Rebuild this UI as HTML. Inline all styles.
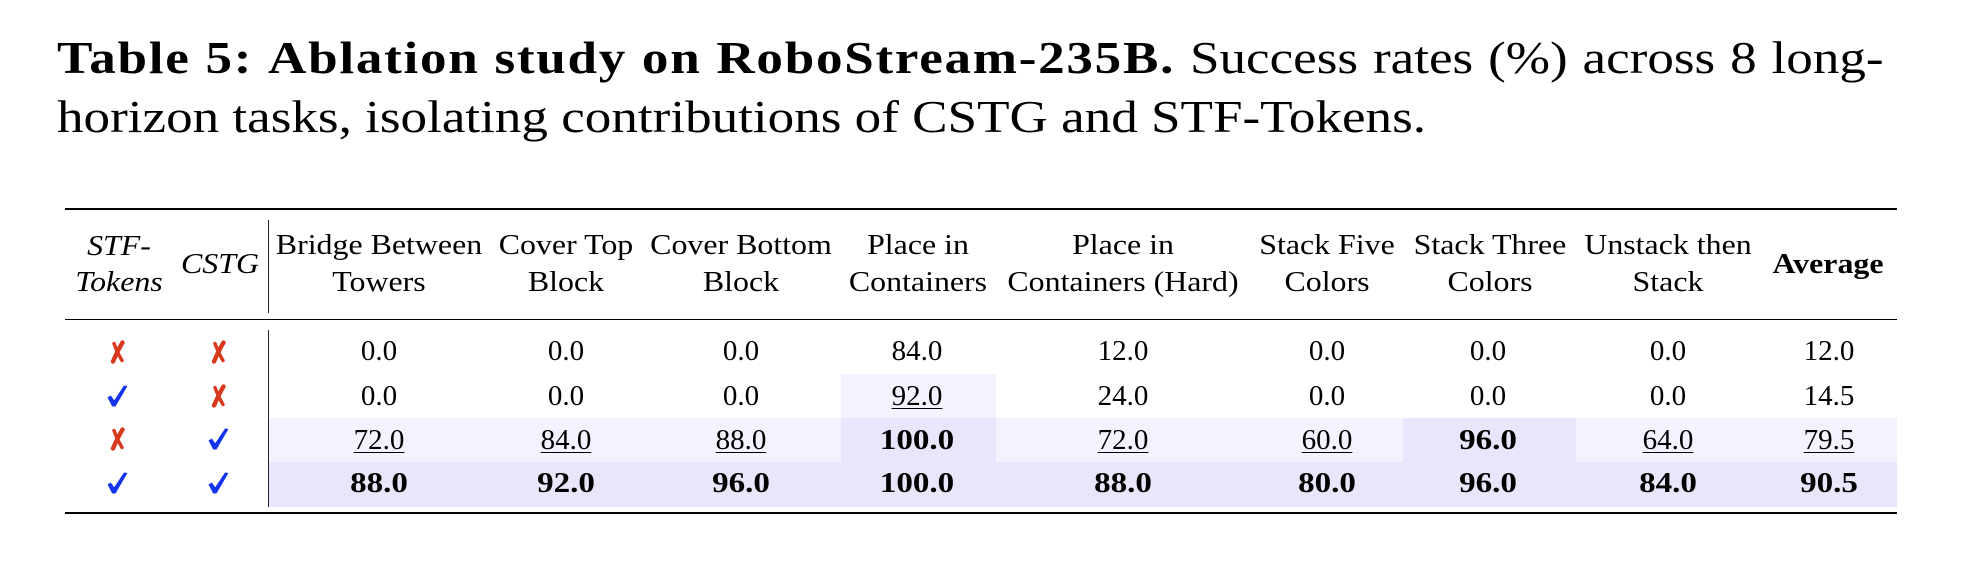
<!DOCTYPE html>
<html>
<head>
<meta charset="utf-8">
<style>
  html, body { margin:0; padding:0; background:#fff; }
  body { width:1962px; height:576px; position:relative; overflow:hidden;
         font-family:"Liberation Serif", serif; color:#000; }
  .cap { position:absolute; font-size:46px; line-height:46px; white-space:nowrap; transform-origin:0 0; }
  .l1 { left:57px; top:34.5px; width:1583px; display:flex; justify-content:space-between; transform:scaleX(1.154); }
  .l1 .b { letter-spacing:1.5px; }
  .l2 { left:57px; top:93.5px; transform:scaleX(1.154); }
  .b { font-weight:bold; }
  .rule { position:absolute; left:65px; width:1832px; background:#000; }
  .vl { position:absolute; left:268px; width:1.3px; background:#222; }
  .bg { position:absolute; }
  .lt { background:#f4f2fe; }
  .dk { background:#e9e6fb; }
  .t { position:absolute; font-size:29px; line-height:29px; white-space:nowrap; transform:translateX(-50%); }
  .h { transform:translateX(-50%) scaleX(1.1); }
  .i { font-style:italic; }
  .bn { font-weight:bold; transform:translateX(-50%) scaleX(1.14); }
  .u { text-decoration:underline; text-decoration-thickness:1.3px; text-underline-offset:3px; }
  .mk { position:absolute; width:24px; height:24px; }
</style>
</head>
<body>

<div class="cap l1"><span class="b">Table</span><span class="b">5:</span><span class="b">Ablation</span><span class="b">study</span><span class="b">on</span><span class="b">RoboStream-235B.</span><span>Success</span><span>rates</span><span>(%)</span><span>across</span><span>8</span><span>long-</span></div>
<div class="cap l2">horizon tasks, isolating contributions of CSTG and STF-Tokens.</div>

<!-- backgrounds -->
<div class="bg lt" style="left:841px;top:374px;width:155px;height:44px;"></div>
<div class="bg lt" style="left:269px;top:418px;width:1628px;height:44px;"></div>
<div class="bg dk" style="left:841px;top:418px;width:155px;height:44px;"></div>
<div class="bg dk" style="left:1403px;top:418px;width:173px;height:44px;"></div>
<div class="bg dk" style="left:269px;top:462px;width:1628px;height:45px;"></div>

<!-- rules -->
<div class="rule" style="top:207.8px;height:2.4px;"></div>
<div class="rule" style="top:318.8px;height:1.4px;"></div>
<div class="rule" style="top:511.8px;height:2.4px;"></div>
<div class="vl" style="top:220px;height:93px;"></div>
<div class="vl" style="top:330px;height:177px;"></div>

<!-- header -->
<div class="t h i" style="left:119px;top:232.4px;">STF-</div>
<div class="t h i" style="left:119px;top:268.4px;">Tokens</div>
<div class="t h i" style="left:220px;top:249.7px;">CSTG</div>

<div class="t h" style="left:379px;top:231.2px;">Bridge Between</div>
<div class="t h" style="left:379px;top:268.4px;">Towers</div>
<div class="t h" style="left:566px;top:231.2px;">Cover Top</div>
<div class="t h" style="left:566px;top:268.4px;">Block</div>
<div class="t h" style="left:741px;top:231.2px;">Cover Bottom</div>
<div class="t h" style="left:741px;top:268.4px;">Block</div>
<div class="t h" style="left:918px;top:231.2px;">Place in</div>
<div class="t h" style="left:918px;top:268.4px;">Containers</div>
<div class="t h" style="left:1123px;top:231.2px;">Place in</div>
<div class="t h" style="left:1123px;top:268.4px;">Containers (Hard)</div>
<div class="t h" style="left:1327px;top:231.2px;">Stack Five</div>
<div class="t h" style="left:1327px;top:268.4px;">Colors</div>
<div class="t h" style="left:1490px;top:231.2px;">Stack Three</div>
<div class="t h" style="left:1490px;top:268.4px;">Colors</div>
<div class="t h" style="left:1668px;top:231.2px;">Unstack then</div>
<div class="t h" style="left:1668px;top:268.4px;">Stack</div>
<div class="t h b" style="left:1828px;top:249.7px;">Average</div>

<!-- row 1 -->
<div class="t" style="left:379px;top:337.4px;">0.0</div>
<div class="t" style="left:566px;top:337.4px;">0.0</div>
<div class="t" style="left:741px;top:337.4px;">0.0</div>
<div class="t" style="left:917px;top:337.4px;">84.0</div>
<div class="t" style="left:1123px;top:337.4px;">12.0</div>
<div class="t" style="left:1327px;top:337.4px;">0.0</div>
<div class="t" style="left:1488px;top:337.4px;">0.0</div>
<div class="t" style="left:1668px;top:337.4px;">0.0</div>
<div class="t" style="left:1829px;top:337.4px;">12.0</div>

<!-- row 2 -->
<div class="t" style="left:379px;top:381.7px;">0.0</div>
<div class="t" style="left:566px;top:381.7px;">0.0</div>
<div class="t" style="left:741px;top:381.7px;">0.0</div>
<div class="t u" style="left:917px;top:381.7px;">92.0</div>
<div class="t" style="left:1123px;top:381.7px;">24.0</div>
<div class="t" style="left:1327px;top:381.7px;">0.0</div>
<div class="t" style="left:1488px;top:381.7px;">0.0</div>
<div class="t" style="left:1668px;top:381.7px;">0.0</div>
<div class="t" style="left:1829px;top:381.7px;">14.5</div>

<!-- row 3 -->
<div class="t u" style="left:379px;top:426px;">72.0</div>
<div class="t u" style="left:566px;top:426px;">84.0</div>
<div class="t u" style="left:741px;top:426px;">88.0</div>
<div class="t bn" style="left:917px;top:426px;">100.0</div>
<div class="t u" style="left:1123px;top:426px;">72.0</div>
<div class="t u" style="left:1327px;top:426px;">60.0</div>
<div class="t bn" style="left:1488px;top:426px;">96.0</div>
<div class="t u" style="left:1668px;top:426px;">64.0</div>
<div class="t u" style="left:1829px;top:426px;">79.5</div>

<!-- row 4 -->
<div class="t bn" style="left:379px;top:469.2px;">88.0</div>
<div class="t bn" style="left:566px;top:469.2px;">92.0</div>
<div class="t bn" style="left:741px;top:469.2px;">96.0</div>
<div class="t bn" style="left:917px;top:469.2px;">100.0</div>
<div class="t bn" style="left:1123px;top:469.2px;">88.0</div>
<div class="t bn" style="left:1327px;top:469.2px;">80.0</div>
<div class="t bn" style="left:1488px;top:469.2px;">96.0</div>
<div class="t bn" style="left:1668px;top:469.2px;">84.0</div>
<div class="t bn" style="left:1829px;top:469.2px;">90.5</div>

<!-- marks -->
<svg class="mk" style="left:106px;top:340px;" viewBox="0 0 24 24"><path d="M16.5,2.5 Q12,10 7,21.5" stroke="#d8381e" stroke-width="4.4" fill="none" stroke-linecap="round"/><path d="M8,3.5 Q11,12 16,20.5" stroke="#d8381e" stroke-width="3.4" fill="none" stroke-linecap="round"/></svg>
<svg class="mk" style="left:207px;top:340px;" viewBox="0 0 24 24"><path d="M16.5,2.5 Q12,10 7,21.5" stroke="#d8381e" stroke-width="4.4" fill="none" stroke-linecap="round"/><path d="M8,3.5 Q11,12 16,20.5" stroke="#d8381e" stroke-width="3.4" fill="none" stroke-linecap="round"/></svg>

<svg class="mk" style="left:105px;top:384px;" viewBox="0 0 24 24"><path d="M2.5,13.5 L5.8,11.5 L9.2,16.2 L19,1.5 L22.5,2 L10.5,22.5 L7.2,22.5 Z" fill="#1534ef"/></svg>
<svg class="mk" style="left:207px;top:384px;" viewBox="0 0 24 24"><path d="M16.5,2.5 Q12,10 7,21.5" stroke="#d8381e" stroke-width="4.4" fill="none" stroke-linecap="round"/><path d="M8,3.5 Q11,12 16,20.5" stroke="#d8381e" stroke-width="3.4" fill="none" stroke-linecap="round"/></svg>

<svg class="mk" style="left:106px;top:427px;" viewBox="0 0 24 24"><path d="M16.5,2.5 Q12,10 7,21.5" stroke="#d8381e" stroke-width="4.4" fill="none" stroke-linecap="round"/><path d="M8,3.5 Q11,12 16,20.5" stroke="#d8381e" stroke-width="3.4" fill="none" stroke-linecap="round"/></svg>
<svg class="mk" style="left:206px;top:427px;" viewBox="0 0 24 24"><path d="M2.5,13.5 L5.8,11.5 L9.2,16.2 L19,1.5 L22.5,2 L10.5,22.5 L7.2,22.5 Z" fill="#1534ef"/></svg>

<svg class="mk" style="left:105px;top:471px;" viewBox="0 0 24 24"><path d="M2.5,13.5 L5.8,11.5 L9.2,16.2 L19,1.5 L22.5,2 L10.5,22.5 L7.2,22.5 Z" fill="#1534ef"/></svg>
<svg class="mk" style="left:206px;top:471px;" viewBox="0 0 24 24"><path d="M2.5,13.5 L5.8,11.5 L9.2,16.2 L19,1.5 L22.5,2 L10.5,22.5 L7.2,22.5 Z" fill="#1534ef"/></svg>

</body>
</html>
